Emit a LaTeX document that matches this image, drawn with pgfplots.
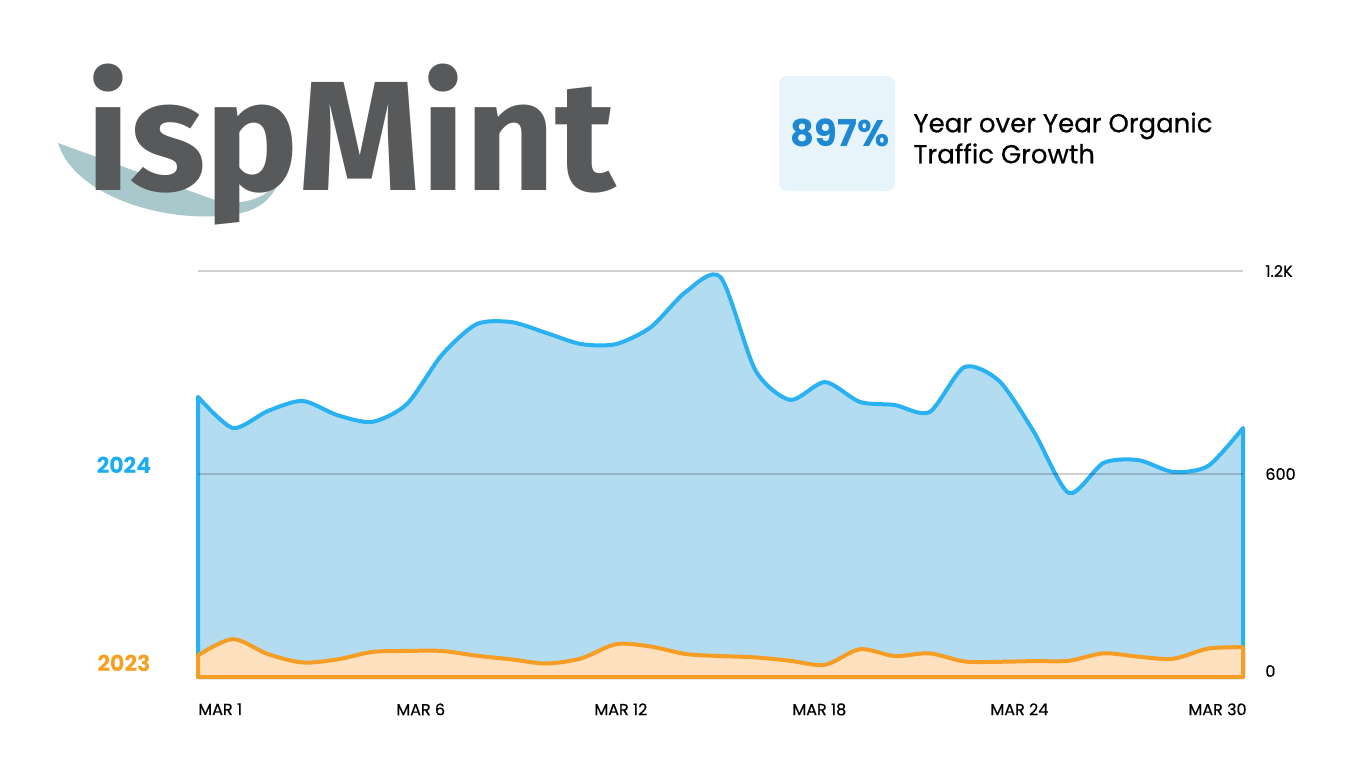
\documentclass[border=0pt]{standalone}
\usepackage{fontspec}
\setmainfont{Poppins}
\newfontfamily\medfont{Poppins}[FakeBold=0.5]
\newfontfamily\logofont{Fira Sans}
\usepackage{pgfplots}
\usepackage{pgfplotstable}
\pgfplotsset{compat=1.18}

\definecolor{blueline}{HTML}{29B1F1}
\definecolor{bluefill}{HTML}{B3DCF0}
\definecolor{orangeline}{HTML}{F59D25}
\definecolor{orangefill}{HTML}{FDE0BE}
\definecolor{logogray}{HTML}{58595B}
\definecolor{swoosh}{HTML}{A9C8CB}
\definecolor{boxfill}{HTML}{E8F4FC}
\definecolor{pctblue}{HTML}{1E88D2}
\definecolor{lbl2024}{HTML}{1AAEF0}
\definecolor{lbl2023}{HTML}{F5A021}

% daily organic sessions, March
\pgfplotstableread{
day y2024 y2023
0  828  64
1  736  112
2  786  68
3  816  43
4  774  52
5  754  74
6  807  77
7  952  77
8  1043 63
9  1049 52
10 1017 40
11 984  55
12 984  97
13 1034 90
14 1138 68
15 1182 62
16 907  58
17 819  48
18 872  36
19 813  82
20 804  62
21 783  70
22 916  46
23 875  45
24 724  47
25 544  48
26 633  70
27 641  60
28 606  54
29 624  84
30 736  88
}\traffic

\begin{document}
\begin{tikzpicture}
\fill[white] (0,0) rectangle (683pt,384pt);

% header: logo and growth badge (pixel coordinates, y down)
\begin{scope}[x=0.5pt,y=-0.5pt,shift={(0,-768)}]
  \fill[swoosh] (58,143) .. controls (75,200) and (180,228) .. (245,212)
    .. controls (270,205) and (282,185) .. (283,160)
    -- (270,190) .. controls (255,203) and (230,205) .. (215,200) -- cycle;
  \node[anchor=base west, inner sep=0pt, text=logogray,
        font=\logofont\bfseries\fontsize{78pt}{78pt}\selectfont] at (86,190) {ispMint};
  \fill[boxfill, rounded corners=4pt] (779,76) rectangle (895,191);
  \node[text=pctblue, font=\bfseries\fontsize{18.5pt}{18.5pt}\selectfont] at (840,133) {897\%};
  \node[anchor=west, align=left, inner sep=0pt,
        font=\medfont\fontsize{13pt}{15.5pt}\selectfont] at (913,138)
        {Year over Year Organic\\Traffic Growth};
  \node[text=lbl2024, font=\bfseries\fontsize{11pt}{11pt}\selectfont] at (124,465) {2024};
  \node[text=lbl2023, font=\bfseries\fontsize{11pt}{11pt}\selectfont] at (124,663) {2023};
\end{scope}

\begin{axis}[
    at={(99pt,45.5pt)}, anchor=south west,
    scale only axis, width=522.5pt, height=203pt,
    xmin=0, xmax=30, ymin=0, ymax=1200,
    clip=false, axis on top,
    axis line style={draw=none},
    tick style={draw=none},
    xtick={0,5.685,11.37,17.055,22.74,28.425},
    xticklabels={MAR 1,MAR 6,MAR 12,MAR 18,MAR 24,MAR 30},
    xticklabel style={anchor=north west, inner sep=0pt, yshift=-13pt,
                      font=\medfont\fontsize{8pt}{8pt}\selectfont},
    ytick={600,1200},
    yticklabels={600,1.2K},
    extra y ticks={0},
    extra y tick labels={0},
    extra y tick style={grid=none, yticklabel style={yshift=3pt}},
    yticklabel pos=right,
    yticklabel style={anchor=west, inner sep=0pt, xshift=11pt,
                      font=\medfont\fontsize{8pt}{8pt}\selectfont},
    ymajorgrids,
    major grid style={draw=black, opacity=0.18, line width=0.6pt},
]
\addplot[draw=blueline, line width=2pt, line join=round, fill=bluefill,
         smooth, tension=0.45] table[x=day,y=y2024]{\traffic} \closedcycle;
\addplot[draw=orangeline, line width=2pt, line join=round, fill=orangefill,
         smooth, tension=0.5] table[x=day,y=y2023]{\traffic} \closedcycle;
\end{axis}
\end{tikzpicture}
\end{document}
